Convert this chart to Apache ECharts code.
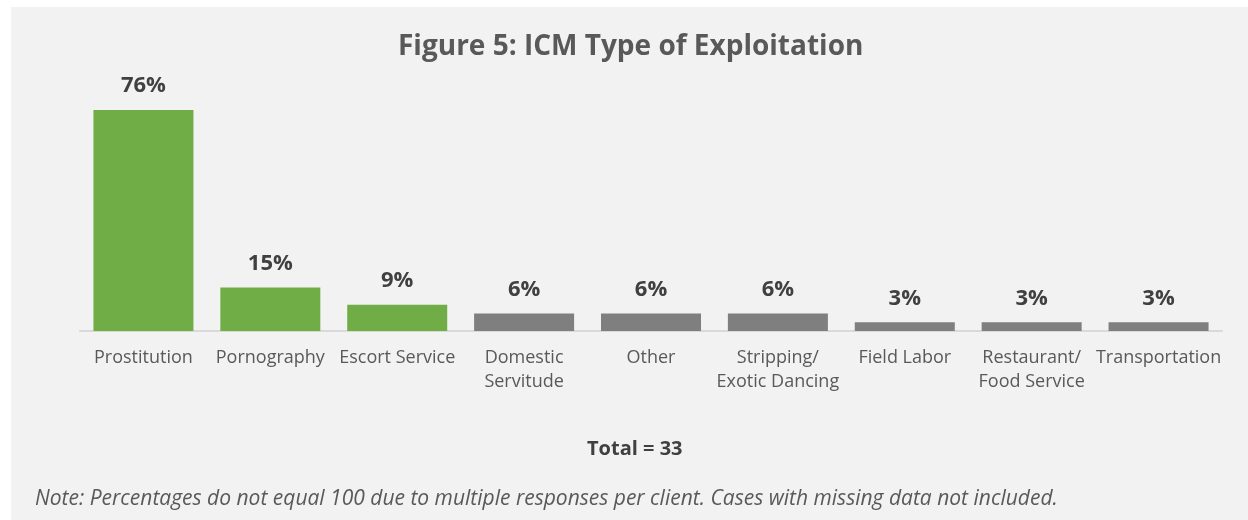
<!DOCTYPE html>
<html>
<head>
<meta charset="utf-8">
<script src="https://cdn.jsdelivr.net/npm/echarts@6/dist/echarts.min.js"></script>
<style>
  html, body { margin: 0; padding: 0; background: #ffffff; }
  #chart { width: 1248px; height: 520px; }
</style>
</head>
<body>
<div id="chart"></div>
<script>
// Exploitation types reported for ICM clients (percent of 33 clients)
const categories = [
  'Prostitution', 'Pornography', 'Escort Service', 'Domestic\nServitude', 'Other',
  'Stripping/\nExotic Dancing', 'Field Labor', 'Restaurant/\nFood Service', 'Transportation'
];
const percents = [76, 15, 9, 6, 6, 6, 3, 3, 3];
// Sexual exploitation types are shown in green, the rest in gray
const isSexual = [true, true, true, false, false, false, false, false, false];
const totalLabel = 'Total = 33';
const noteText = 'Note: Percentages do not equal 100 due to multiple responses per client. Cases with missing data not included.';

const GREEN = '#70ad47';
const GRAY = '#7f7f7f';
const FONT = '"Open Sans", "Noto Sans", sans-serif';

const chart = echarts.init(document.getElementById('chart'), null, { renderer: 'canvas' });

chart.setOption({
  animation: false,
  backgroundColor: '#ffffff',
  textStyle: { fontFamily: FONT },
  graphic: [
    {
      type: 'rect', z: -10, silent: true,
      shape: { x: 11, y: 7, width: 1237, height: 513 },
      style: { fill: '#f2f2f2' }
    },
    {
      type: 'text', left: 398, top: 33,
      style: { text: 'Figure 5: ICM Type of Exploitation', fill: '#595959',
        font: 'bold 28px ' + FONT }
    },
    {
      type: 'text', left: 587, top: 439,
      style: { text: totalLabel, fill: '#404040', font: 'bold 20px ' + FONT }
    },
    {
      type: 'text', left: 35, top: 489,
      style: { text: noteText, fill: '#595959', font: 'italic 21px ' + FONT }
    }
  ],
  grid: { left: 80, right: 26, top: 110, bottom: 189, containLabel: false },
  xAxis: {
    type: 'category',
    data: categories,
    axisLine: { show: true, lineStyle: { color: '#d9d9d9', width: 2 } },
    axisTick: { show: false },
    axisLabel: {
      interval: 0, color: '#595959', fontSize: 18, lineHeight: 24,
      margin: 15, fontFamily: FONT
    }
  },
  yAxis: {
    type: 'value', min: 0, max: 76,
    show: false,
    splitLine: { show: false }
  },
  series: [{
    type: 'bar',
    barWidth: 100,
    data: percents.map((v, i) => ({
      value: v,
      itemStyle: { color: isSexual[i] ? GREEN : GRAY }
    })),
    label: {
      show: true, position: 'top', distance: 13,
      formatter: p => p.value + '%',
      color: '#404040', fontSize: 22, fontWeight: 'bold', fontFamily: FONT
    }
  }]
});
</script>
</body>
</html>
